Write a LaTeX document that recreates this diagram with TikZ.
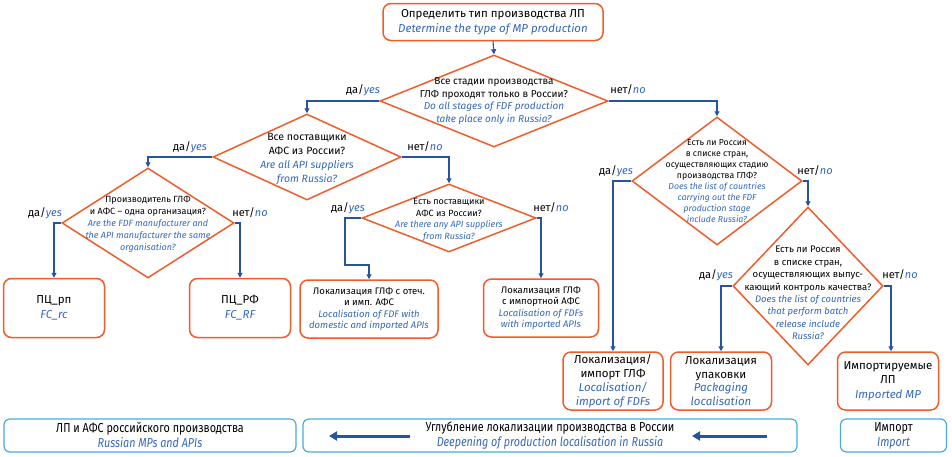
\documentclass[tikz,border=0pt]{standalone}
\usepackage{fontspec}
\setmainfont{Fira Sans}
\newfontfamily\condfont[FakeStretch=0.83]{Fira Sans}
\usetikzlibrary{shapes.geometric,arrows.meta}
\definecolor{orng}{RGB}{240,92,42}
\definecolor{lnblue}{RGB}{38,84,158}
\definecolor{txblue}{RGB}{52,104,186}
\definecolor{cyanb}{RGB}{72,170,222}
\newcommand\en[1]{{\color{txblue}\itshape #1}}
\tikzset{
  obox/.style={draw=orng, line width=1.5pt, rounded corners=8pt, align=center, inner sep=0pt},
  dia/.style={draw=orng, line width=1.5pt, diamond, inner sep=0pt},
  dtext/.style={align=center, inner sep=0pt},
  conn/.style={draw=lnblue, line width=1.1pt, -{Triangle[length=5pt,width=5pt]}},
  lbl/.style={font=\fontsize{11}{13}\selectfont, inner sep=0pt},
  bbox/.style={draw=cyanb, line width=1.2pt, rounded corners=6pt, align=center, inner sep=0pt,
    font=\condfont\fontsize{13}{15}\selectfont},
  bigarrow/.style={draw=lnblue, line width=3pt, -{Triangle[length=8pt,width=9pt]}},
}
\begin{document}
\begin{tikzpicture}[x=1pt,y=-1pt]
\useasboundingbox (0,0) rectangle (952,456);

% top box
\node[obox, minimum width=220pt, minimum height=37pt, font=\fontsize{11.5}{15}\selectfont] (top) at (493,22)
  {Определить тип производства ЛП\\\en{Determine the type of MP production}};

% diamonds
\node[dia, minimum width=228pt, minimum height=92pt] (d1) at (494,101) {};
\node[dtext, font=\fontsize{10}{12.7}\selectfont] (t1) at (494,101)
  {Все стадии производства\\ГЛФ проходят только в России?\\\en{Do all stages of FDF production}\\\en{take place only in Russia?}};

\node[dia, minimum width=188pt, minimum height=86pt] (d2) at (307,157) {};
\node[dtext, font=\fontsize{10.5}{14}\selectfont] (t2) at (307,159)
  {Все поставщики\\АФС из России?\\\en{Are all API suppliers}\\\en{from Russia?}};

\node[dia, minimum width=172pt, minimum height=110pt] (d4) at (148,223) {};
\node[dtext, font=\fontsize{9}{12}\selectfont] (t4) at (148,224)
  {Производитель ГЛФ\\и АФС – одна организация?\\\en{Are the FDF manufacturer and}\\\en{the API manufacturer the same}\\\en{organisation?}};

\node[dia, minimum width=174pt, minimum height=68pt] (d5) at (449,218) {};
\node[dtext, font=\fontsize{9}{11.5}\selectfont] (t5) at (449,220)
  {Есть поставщики\\АФС из России?\\\en{Are there any API suppliers}\\\en{from Russia?}};

\node[dia, minimum width=170pt, minimum height=128pt] (d3) at (717,181) {};
\node[dtext, font=\fontsize{8.7}{10.9}\selectfont] (t3) at (717,181)
  {Есть ли Россия\\в списке стран,\\осуществляющих стадию\\производства ГЛФ?\\\en{Does the list of countries}\\\en{carrying out the FDF}\\\en{production stage}\\\en{include Russia?}};

\node[dia, minimum width=150pt, minimum height=158pt] (d6) at (808,286) {};
\node[dtext, font=\fontsize{9.5}{12.4}\selectfont] (t6) at (808,293)
  {Есть ли Россия\\в списке стран,\\осуществляющих выпус-\\кающий контроль качества?\\\en{Does the list of countries}\\\en{that perform batch}\\\en{release include}\\\en{Russia?}};

% result boxes
\node[obox, minimum width=101pt, minimum height=59pt, font=\fontsize{11.5}{15}\selectfont] (b1) at (54,308)
  {ПЦ\_рп\\\en{FC\_rc}};
\node[obox, minimum width=101pt, minimum height=59pt, font=\fontsize{11.5}{15}\selectfont] (b2) at (240,308)
  {ПЦ\_РФ\\\en{FC\_RF}};
\node[obox, minimum width=138pt, minimum height=58pt, font=\fontsize{9.5}{11.5}\selectfont] (b3) at (369,309)
  {Локализация ГЛФ с отеч.\\и имп. АФС\\\en{Localisation of FDF with}\\\en{domestic and imported APIs}};
\node[obox, minimum width=115pt, minimum height=58pt, font=\fontsize{9.5}{11.5}\selectfont] (b4) at (541,308)
  {Локализация ГЛФ\\с импортной АФС\\\en{Localisation of FDFs}\\\en{with imported APIs}};
\node[obox, minimum width=100pt, minimum height=58pt, font=\fontsize{11.5}{13.8}\selectfont] (b5) at (613,381)
  {Локализация/\\импорт ГЛФ\\\en{Localisation/}\\\en{import of FDFs}};
\node[obox, minimum width=101pt, minimum height=58pt, font=\fontsize{11.5}{13.8}\selectfont] (b6) at (721,381)
  {Локализация\\упаковки\\\en{Packaging}\\\en{localisation}};
\node[obox, minimum width=101pt, minimum height=58pt, font=\fontsize{11.5}{14.5}\selectfont] (b7) at (888,381)
  {Импортируемые\\ЛП\\\en{Imported MP}};

% connectors
\draw[conn] (top.south) -- (d1.north);
\draw[conn] (d1.west) -| (d2.north);
\draw[conn] (d1.east) -| (d3.north);
\draw[conn] (d2.west) -| (d4.north);
\draw[conn] (d2.east) -| (d5.north);
\draw[conn] (d4.west) -| (b1.north);
\draw[conn] (d4.east) -| (b2.north);
\coordinate (c5) at (345,265);
\draw[conn] (d5.west) -| (c5) -| (b3.north);
\draw[conn] (d5.east) -| (b4.north);
\draw[conn] (d3.west) -| (b5.north);
\draw[conn] (d3.east) -| (d6.north);
\draw[conn] (d6.west) -| (b6.north);
\coordinate (c7) at (891,286);
\draw[conn] (d6.east) -- (c7) -- (c7 |- b7.north);

% labels
\node[lbl] (l1) at (363,90) {да/\en{yes}};
\node[lbl] (l2) at (628,90) {нет/\en{no}};
\node[lbl] (l3) at (190,147) {да/\en{yes}};
\node[lbl] (l4) at (425,147) {нет/\en{no}};
\node[lbl] (l5) at (45,213) {да/\en{yes}};
\node[lbl] (l6) at (250,213) {нет/\en{no}};
\node[lbl] (l7) at (348,208) {да/\en{yes}};
\node[lbl] (l8) at (551,208) {нет/\en{no}};
\node[lbl] (l9) at (616,171) {да/\en{yes}};
\node[lbl] (l10) at (815,171) {нет/\en{no}};
\node[lbl] (l11) at (716,275) {да/\en{yes}};
\node[lbl] (l12) at (900,275) {нет/\en{no}};

% bottom row
\node[bbox, minimum width=292pt, minimum height=33pt] (bb1) at (150,435.5)
  {ЛП и АФС российского производства\\\en{Russian MPs and APIs}};
\node[bbox, minimum width=494pt, minimum height=33pt] (bb2) at (550,435.5)
  {Углубление локализации производства в России\\\en{Deepening of production localisation in Russia}};
\node[bbox, minimum width=106pt, minimum height=33pt] (bb3) at (893.5,435.5)
  {Импорт\\\en{Import}};
\coordinate (a1s) at (410,436);
\coordinate (a1e) at (329,436);
\coordinate (a2s) at (767,436);
\coordinate (a2e) at (692,436);
\draw[bigarrow] (a1s) -- (a1e);
\draw[bigarrow] (a2s) -- (a2e);
\end{tikzpicture}
\end{document}
